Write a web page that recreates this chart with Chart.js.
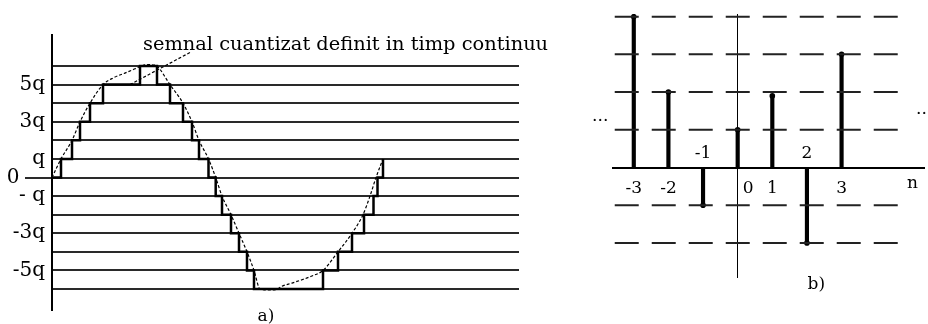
<!DOCTYPE html>
<html><head><meta charset="utf-8">
<script src="https://cdn.jsdelivr.net/npm/chart.js@4/dist/chart.umd.min.js"></script>
<style>
html,body{margin:0;padding:0;background:#fff;}
#wrap{position:relative;width:928px;height:324px;overflow:hidden;background:#fff;}
#ca{position:absolute;left:0;top:0;}
#cb{position:absolute;left:590px;top:0;}
</style></head><body>
<div id="wrap"><canvas id="ca" width="590" height="324"></canvas><canvas id="cb" width="338" height="324"></canvas></div>
<script>
// ---------- panel a) : quantized signal in continuous time ----------
const quantLevels = [-6,-5,-4,-3,-2,-1,0,1,2,3,4,5,6];
const levelTickLabels = {5:'5q', 3:'3q', 1:'q', 0:'0', '-1':'- q', '-3':'-3q', '-5':'-5q'};
// continuous signal (dashed)
const sineT = [0,9,20,28,38,51,62,72,80,88,96,102,105,118,131,140,147,156.5,163.7,170,179,187,195,202,208,216,224,230,240,250,260,271,286,300,311,318,324,331];
const sineV = [0,1,2,3,4,5,5.38,5.6,5.78,5.97,6.08,6.05,6,5,4,3,2,1,0,-1,-2,-3,-4,-5,-6,-6.05,-6.03,-5.85,-5.68,-5.5,-5.3,-5,-4,-3,-2,-1,0,1];
// quantized staircase: time of each jump and the new level
const stairT = [0,9,20,28,38,51,88,105,118,131,140,147,156.5,163.7,170,179,187,195,202,271,286,300,312,321.5,325.5,331];
const stairV = [0,1,2,3,4,5,6,5,4,3,2,1,0,-1,-2,-3,-4,-5,-6,-5,-4,-3,-2,-1,0,1];
// leader line from the caption to the staircase
const pointerT = [78,138];
const pointerV = [5.0,6.73];
const captionA = 'semnal cuantizat definit in timp continuu';
const panelA = 'a)';

// ---------- panel b) : discrete-time signal ----------
const nValues = [-3,-2,-1,0,1,2,3];
const xnValues = [4,2,-1,1,1.9,-2,3];
const nTickLabels = ['-3','-2','-1','0','1','2','3'];
const dashLevels = [4,3,2,1,-1,-2];
const axisNameB = 'n';
const panelB = 'b)';
const ellipsis = '...';

const SERIF = '"DejaVu Serif", "Liberation Serif", serif';

const annotA = {
  id:'annotA',
  afterDraw(chart){
    const {ctx, scales:{x,y}} = chart;
    ctx.save();
    ctx.fillStyle = '#000';
    ctx.font = '19.4px ' + SERIF;
    ctx.textAlign = 'left'; ctx.textBaseline = 'alphabetic';
    ctx.fillText(captionA, x.getPixelForValue(91), y.getPixelForValue(6.84));
    ctx.font = '20px ' + SERIF;
    ctx.textAlign = 'center'; ctx.textBaseline = 'middle';
    ctx.fillText(levelTickLabels[0], x.getPixelForValue(-39), y.getPixelForValue(0));
    ctx.font = '17px ' + SERIF;
    ctx.fillText(panelA, x.getPixelForValue(214), y.getPixelForValue(-7.48));
    ctx.restore();
  }
};

new Chart(document.getElementById('ca'), {
  type:'line',
  data:{datasets:[
    {data: stairT.map((t,i)=>({x:t,y:stairV[i]})), stepped:'before', borderColor:'#000', borderWidth:2.5, pointRadius:0, fill:false},
    {data: sineT.map((t,i)=>({x:t,y:sineV[i]})), borderColor:'#000', borderWidth:1.2, borderDash:[3,2], pointRadius:0, fill:false, cubicInterpolationMode:'monotone'},
    {data: pointerT.map((t,i)=>({x:t,y:pointerV[i]})), borderColor:'#000', borderWidth:1.2, borderDash:[3,2], pointRadius:0, fill:false}
  ]},
  options:{
    responsive:false, animation:false, devicePixelRatio:1,
    layout:{padding:{left:0,right:71,top:35,bottom:14}},
    plugins:{legend:{display:false}, tooltip:{enabled:false}},
    scales:{
      x:{type:'linear', min:0, max:467, display:false},
      y:{type:'linear', min:-7.13, max:7.67,
        afterBuildTicks: s => { s.ticks = quantLevels.map(v=>({value:v})); },
        afterFit: s => { s.width = 52; },
        border:{display:true, color:'#000', width:2},
        grid:{color:'#2a2a2a', lineWidth:2, drawTicks:true, tickLength:27, tickWidth:2,
          tickColor: c => (c.tick && c.tick.value === 0) ? '#2a2a2a' : 'rgba(0,0,0,0)'},
        ticks:{autoSkip:false, padding:-20, color:'#000', font:{family:SERIF, size:20},
          callback: v => (v === 0 ? '' : (levelTickLabels[v] || ''))}
      }
    }
  },
  plugins:[annotA]
});

const annotB = {
  id:'annotB',
  afterDraw(chart){
    const {ctx, scales:{x,y}} = chart;
    ctx.save();
    ctx.fillStyle = '#000';
    ctx.font = '17px ' + SERIF;
    ctx.textAlign = 'center'; ctx.textBaseline = 'middle';
    nValues.forEach((n,i) => {
      const below = xnValues[i] >= 0;
      const nx = n === 0 ? n + 0.3 : n;
      ctx.fillText(nTickLabels[i], x.getPixelForValue(nx), y.getPixelForValue(below ? -0.55 : 0.38));
    });
    ctx.fillText(axisNameB, x.getPixelForValue(5.05), y.getPixelForValue(-0.42));
    ctx.fillText(panelB, x.getPixelForValue(2.27), y.getPixelForValue(-3.09));
    ctx.fillText(ellipsis, x.getPixelForValue(-3.97), y.getPixelForValue(1.34));
    ctx.textAlign = 'left';
    ctx.fillText(ellipsis, x.getPixelForValue(5.15), y.getPixelForValue(1.53));
    ctx.restore();
  }
};

const stemData = nValues.map((n,i)=>({x:n, y:xnValues[i]}));
new Chart(document.getElementById('cb'), {
  type:'bar',
  data:{datasets:[
    ...dashLevels.map(v => ({type:'line', data:[{x:-3.55,y:v},{x:4.9,y:v}], borderColor:'#222', borderWidth:2, borderDash:[24,13], pointRadius:0, fill:false})),
    {type:'bar', data: stemData, backgroundColor:'#000', barThickness:3.5, borderWidth:0},
    {type:'scatter', data: stemData, pointRadius:2.8, backgroundColor:'#000', borderWidth:0}
  ]},
  options:{
    responsive:false, animation:false, devicePixelRatio:1,
    layout:{padding:{left:23,right:0,top:14,bottom:47}},
    plugins:{legend:{display:false}, tooltip:{enabled:false}},
    scales:{
      x:{type:'linear', min:-3.6, max:5.38, offset:false, position:{y:0},
        grid:{display:false, drawTicks:false}, ticks:{display:false},
        border:{display:true, color:'#000', width:2}},
      y:{type:'linear', min:-2.9, max:4.07, position:{x:0},
        grid:{display:false, drawTicks:false}, ticks:{display:false},
        border:{display:true, color:'#000', width:1}}
    }
  },
  plugins:[annotB]
});
</script>
</body></html>
